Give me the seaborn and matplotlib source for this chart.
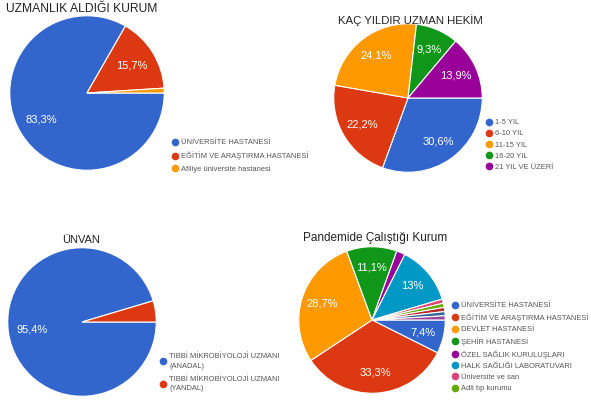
import matplotlib
matplotlib.use("Agg")
import matplotlib.pyplot as plt
from matplotlib.lines import Line2D
import seaborn as sns

# ---------------- data ----------------
c1_title = "UZMANLIK ALDIĞI KURUM"
c1_labels = ["ÜNİVERSİTE HASTANESİ", "EĞİTİM VE ARAŞTIRMA HASTANESİ", "Afiliye üniversite hastanesi"]
c1_values = [83.3, 15.7, 1.0]

c2_title = "KAÇ YILDIR UZMAN HEKİM"
c2_labels = ["1-5 YIL", "6-10 YIL", "11-15 YIL", "16-20 YIL", "21 YIL VE ÜZERİ"]
c2_values = [30.6, 22.2, 24.1, 9.3, 13.9]

c3_title = "ÜNVAN"
c3_labels = ["TIBBİ MİKROBİYOLOJİ UZMANI\n(ANADAL)", "TIBBİ MİKROBİYOLOJİ UZMANI\n(YANDAL)"]
c3_values = [95.4, 4.6]

c4_title = "Pandemide Çalıştığı Kurum"
c4_labels = ["ÜNİVERSİTE HASTANESİ", "EĞİTİM VE ARAŞTIRMA HASTANESİ", "DEVLET HASTANESİ",
             "ŞEHİR HASTANESİ", "ÖZEL SAĞLIK KURULUŞLARI", "HALK SAĞLIĞI LABORATUVARI",
             "Üniversite ve san", "Adli tıp kurumu", "Diğer 1", "Diğer 2", "Diğer 3"]
c4_values = [7.4, 33.3, 28.7, 11.1, 1.9, 13.0, 0.92, 0.92, 0.92, 0.92, 0.92]
c4_legend_n = 8

google = ["#3366cc", "#dc3912", "#ff9900", "#109618", "#990099", "#0099c6",
          "#dd4477", "#66aa00", "#b82e2e", "#316395", "#994499"]

# ---------------- style ----------------
sns.set_theme(style="white")
plt.rcParams["font.family"] = ["Liberation Sans", "DejaVu Sans"]
palette = sns.color_palette(google)

W, H = 591, 403
fig = plt.figure(figsize=(W / 100, H / 100), dpi=100)
fig.patch.set_facecolor("white")


def fx(px):
    return px / W


def fy(py):
    return 1 - py / H


def fmt(p):
    if p < 5:
        return ""
    s = f"{p:.1f}"
    if s.endswith(".0"):
        s = s[:-2]
    return s.replace(".", ",") + "%"


def pie(cx, cy, r, values, pctdist):
    ax = fig.add_axes([fx(cx - r), fy(cy + r), 2 * r / W, 2 * r / H])
    wedges, texts, autotexts = ax.pie(
        values, colors=palette[:len(values)], startangle=0, counterclock=False,
        autopct=fmt, pctdistance=pctdist, radius=1,
        wedgeprops=dict(edgecolor="white", linewidth=0.8),
        textprops=dict(color="white", fontsize=8))
    ax.set_xlim(-1.01, 1.01)
    ax.set_ylim(-1.01, 1.01)
    ax.set_aspect("equal")
    ax.axis("off")
    return ax


def legend(x, y, labels, colors, spacing, linespacing=1.2):
    handles = [Line2D([0], [0], marker="o", linestyle="", markersize=4.5,
                      markerfacecolor=c, markeredgecolor=c) for c in colors]
    lg = fig.legend(handles, labels, loc="upper left",
                    bbox_to_anchor=(fx(x), fy(y)), frameon=False,
                    fontsize=5.4, labelspacing=spacing, handlelength=0.8,
                    handletextpad=0.45, borderaxespad=0, borderpad=0)
    for t in lg.get_texts():
        t.set_color("#555555")
        t.set_linespacing(linespacing)
    return lg


# chart 1
pie(87, 93, 78, c1_values, 0.68)
fig.text(fx(6), fy(9), c1_title, fontsize=8.7, color="#222222", va="center", ha="left")
legend(172, 139, c1_labels, palette[:3], 0.72)

# chart 2
pie(408, 98, 75, c2_values, 0.71)
fig.text(fx(410), fy(20), c2_title, fontsize=8.2, color="#222222", va="center", ha="center")
legend(486, 119, c2_labels, palette[:5], 0.52)

# chart 3
pie(82, 322, 75, c3_values, 0.68)
fig.text(fx(81), fy(240), c3_title, fontsize=8, color="#222222", va="center", ha="center")
legend(160, 353, c3_labels, palette[:2], 0.85, 1.5)

# chart 4
pie(372, 320, 74, c4_values, 0.72)
fig.text(fx(375), fy(238), c4_title, fontsize=8.5, color="#222222", va="center", ha="center")
legend(452, 302, c4_labels[:c4_legend_n], palette[:c4_legend_n], 0.53)

fig.savefig("out.png", dpi=100, facecolor="white")
